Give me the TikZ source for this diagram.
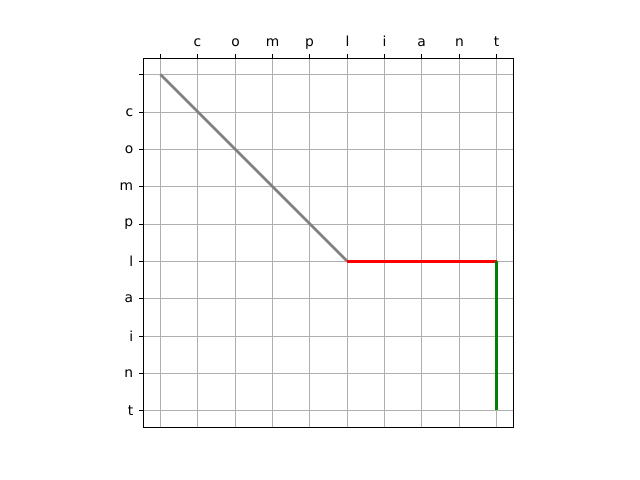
\documentclass[tikz,border=0pt]{standalone}
\usepackage{fontspec}
\setmainfont{DejaVu Sans}
\definecolor{gridc}{HTML}{B0B0B0}
\definecolor{mplgreen}{HTML}{008000}
\begin{document}
\begin{tikzpicture}[x=0.01in,y=-0.01in,
  gridline/.style={gridc,line width=0.72pt},
  spine/.style={black,line width=0.72pt},
  tickmark/.style={black,line width=0.72pt},
  toplabel/.style={anchor=base,inner sep=0pt,font=\fontsize{10}{12}\selectfont},
  leftlabel/.style={anchor=east,inner sep=0pt,font=\fontsize{10}{12}\selectfont},
  pathline/.style={line width=2pt}]
\useasboundingbox (0,0) rectangle (640,480);
\foreach \p in {160.5,197.5,235.5,272.5,309.5,347.5,384.5,421.5,459.5,496.5} {
  \draw[gridline] (\p,58.5) -- (\p,427.5);
  \draw[tickmark] (\p,58.5) -- (\p,53.6);
}
\foreach \p in {74.5,112.5,149.5,186.5,224.5,261.5,298.5,336.5,373.5,410.5} {
  \draw[gridline] (143.5,\p) -- (513.5,\p);
  \draw[tickmark] (143.5,\p) -- (138.6,\p);
}
\foreach \l/\p [count=\k from 0] in {{}/160.5,c/197.5,o/235.5,m/272.5,p/309.5,l/347.5,i/384.5,a/421.5,n/459.5,t/496.5} {
  \node[toplabel] (top\k) at (\p,46.5) {\l};
}
\foreach \l/\p [count=\k from 0] in {{}/74.5,c/112.5,o/149.5,m/186.5,p/224.5,l/261.5,a/298.5,i/336.5,n/373.5,t/410.5} {
  \node[leftlabel] (left\k) at (133.5,\p) {\l};
}
\coordinate (s) at (160.5,74.5);
\coordinate (d) at (347.2,261.2);
\coordinate (r) at (496.5,261.2);
\coordinate (e) at (496.5,410.5);
\draw[pathline,gray] (s) -- (d);
\draw[pathline,red] (d) -- (r);
\draw[pathline,mplgreen] (r) -- (e);
\draw[spine] (143.5,58.5) rectangle (513.5,427.5);
\end{tikzpicture}
\end{document}
